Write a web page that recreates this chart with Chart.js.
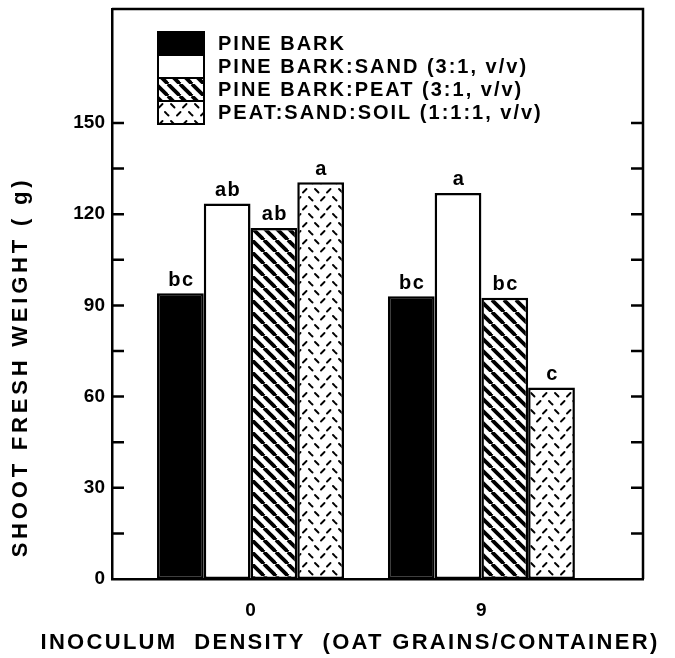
<!DOCTYPE html>
<html>
<head>
<meta charset="utf-8">
<script src="https://cdn.jsdelivr.net/npm/chart.js@4.4.1/dist/chart.umd.min.js"></script>
<style>
  html, body { margin: 0; padding: 0; background: #fff; }
  #wrap { width: 675px; height: 658px; position: relative; }
</style>
</head>
<body>
<div id="wrap"><canvas id="chart"></canvas></div>
<script>
// data
const densities = ['0', '9'];
const mediaNames = [
  'PINE BARK',
  'PINE BARK:SAND (3:1, v/v)',
  'PINE BARK:PEAT (3:1, v/v)',
  'PEAT:SAND:SOIL (1:1:1, v/v)',
];
const pineBark = [94, 93];
const barkSand = [123.5, 127];
const barkPeat = [115.5, 92.5];
const peatSandSoil = [130.5, 63];
const letters = [
  ['bc', 'bc'],
  ['ab', 'a'],
  ['ab', 'bc'],
  ['a', 'c'],
];
const yTickLabels = [0, 30, 60, 90, 120, 150];
const yTickMarks = [15, 30, 45, 60, 75, 90, 105, 120, 135, 150];

const FONT = "'Liberation Sans', Arial, sans-serif";
Chart.defaults.font.family = FONT;
Chart.defaults.color = '#000';

const ctx = document.getElementById('chart').getContext('2d');

function hatch() {
  const c = document.createElement('canvas');
  c.width = c.height = 12;
  const g = c.getContext('2d');
  g.fillStyle = '#fff';
  g.fillRect(0, 0, 12, 12);
  g.strokeStyle = '#000';
  g.lineWidth = 3.8;
  for (const o of [-12, 0, 12]) {
    g.beginPath();
    g.moveTo(o, 0);
    g.lineTo(o + 12, 12);
    g.stroke();
  }
  return ctx.createPattern(c, 'repeat');
}

function dashes() {
  const c = document.createElement('canvas');
  c.width = 24; c.height = 17;
  const g = c.getContext('2d');
  g.fillStyle = '#fff';
  g.fillRect(0, 0, 24, 17);
  g.strokeStyle = '#000';
  g.lineWidth = 1.9;
  g.lineCap = 'round';
  const seg = (x1, y1, x2, y2) => { g.beginPath(); g.moveTo(x1, y1); g.lineTo(x2, y2); g.stroke(); };
  seg(3, 2, 6.5, 5.5);      // "\"
  seg(15, 5.5, 18.5, 2);    // "/"
  seg(9, 13.5, 12.5, 10);   // "/"
  seg(21, 10, 24.5, 13.5);  // "\"
  seg(-3, 10, 0.5, 13.5);
  return ctx.createPattern(c, 'repeat');
}

const fills = ['#000', '#fff', hatch(), dashes()];
const series = [pineBark, barkSand, barkPeat, peatSandSoil];

function spacedText(c, text, x, y, size, spacing) {
  c.font = 'bold ' + size + 'px ' + FONT;
  c.letterSpacing = spacing + 'px';
  c.fillText(text, x, y);
}

const frame = {
  id: 'frame',
  afterDraw(chart) {
    const { ctx, chartArea: a, scales: { y } } = chart;
    ctx.save();
    ctx.strokeStyle = '#000';
    ctx.lineWidth = 2.5;
    ctx.beginPath();
    ctx.moveTo(a.left, a.top);
    ctx.lineTo(a.right, a.top);
    ctx.lineTo(a.right, a.bottom);
    ctx.stroke();
    yTickMarks.forEach(v => {
      const py = y.getPixelForValue(v);
      ctx.beginPath();
      ctx.moveTo(a.left, py);
      ctx.lineTo(a.left + 12, py);
      ctx.moveTo(a.right, py);
      ctx.lineTo(a.right - 12, py);
      ctx.stroke();
    });
    ctx.restore();
  },
};

const barLetters = {
  id: 'barLetters',
  afterDatasetsDraw(chart) {
    const { ctx } = chart;
    ctx.save();
    ctx.fillStyle = '#000';
    ctx.textAlign = 'center';
    ctx.textBaseline = 'bottom';
    chart.data.datasets.forEach((ds, i) => {
      chart.getDatasetMeta(i).data.forEach((bar, j) => {
        spacedText(ctx, letters[i][j], bar.x + 1, bar.y - 3, 20, 1.5);
      });
    });
    ctx.restore();
  },
};

const boxLegend = {
  id: 'boxLegend',
  afterDraw(chart) {
    const { ctx } = chart;
    const x = 158, y0 = 32, w = 46, h = 23;
    ctx.save();
    ctx.textBaseline = 'middle';
    chart.data.datasets.forEach((ds, i) => {
      const y = y0 + i * h;
      ctx.fillStyle = ds.backgroundColor;
      ctx.fillRect(x, y, w, h);
      ctx.strokeStyle = '#000';
      ctx.lineWidth = 2;
      ctx.strokeRect(x, y, w, h);
      ctx.fillStyle = '#000';
      spacedText(ctx, ds.label, x + 60, y + h / 2 + 1, 20, 2);
    });
    ctx.restore();
  },
};

const axisTitles = {
  id: 'axisTitles',
  afterDraw(chart) {
    const { ctx } = chart;
    ctx.save();
    ctx.fillStyle = '#000';
    ctx.textAlign = 'center';
    ctx.textBaseline = 'middle';
    spacedText(ctx, 'INOCULUM  DENSITY  (OAT GRAINS/CONTAINER)', 350, 643, 22, 2.3);
    ctx.translate(21, 367);
    ctx.rotate(-Math.PI / 2);
    spacedText(ctx, 'SHOOT FRESH WEIGHT ( g)', 0, 0, 22, 3.8);
    ctx.restore();
  },
};

new Chart(ctx, {
  type: 'bar',
  data: {
    datasets: series.map((vals, i) => ({
      label: mediaNames[i],
      data: vals.map((v, j) => ({ x: j, y: v })),
      backgroundColor: fills[i],
      borderColor: '#000',
      borderWidth: 2.5,
      borderSkipped: false,
      categoryPercentage: 0.81,
      barPercentage: 1,
    })),
  },
  options: {
    responsive: true,
    maintainAspectRatio: false,
    animation: false,
    layout: { padding: { left: 0, right: 32, top: 9, bottom: 0 } },
    plugins: {
      legend: { display: false },
      tooltip: { enabled: false },
    },
    scales: {
      x: {
        type: 'linear',
        min: -0.6,
        max: 1.7,
        offset: false,
        afterBuildTicks: (s) => { s.ticks = densities.map((d, i) => ({ value: i })); },
        afterFit: (s) => { s.height = 79; s.paddingLeft = 0; s.paddingRight = 0; },
        grid: { display: false, drawTicks: false },
        border: { display: true, color: '#000', width: 2.5 },
        ticks: {
          color: '#000',
          padding: 20,
          font: { size: 19, weight: 'bold' },
          callback: (v) => densities[v],
        },
      },
      y: {
        min: 0,
        max: 187.5,
        afterFit: (s) => { s.width = 112; s.paddingTop = 0; s.paddingBottom = 0; },
        grid: { display: false, drawTicks: false },
        border: { display: true, color: '#000', width: 2.5 },
        ticks: {
          stepSize: 15,
          padding: 7,
          color: '#000',
          font: { size: 19, weight: 'bold' },
          callback: (v) => (yTickLabels.includes(v) ? String(v) : ''),
        },
      },
    },
  },
  plugins: [frame, barLetters, boxLegend, axisTitles],
});
</script>
</body>
</html>
